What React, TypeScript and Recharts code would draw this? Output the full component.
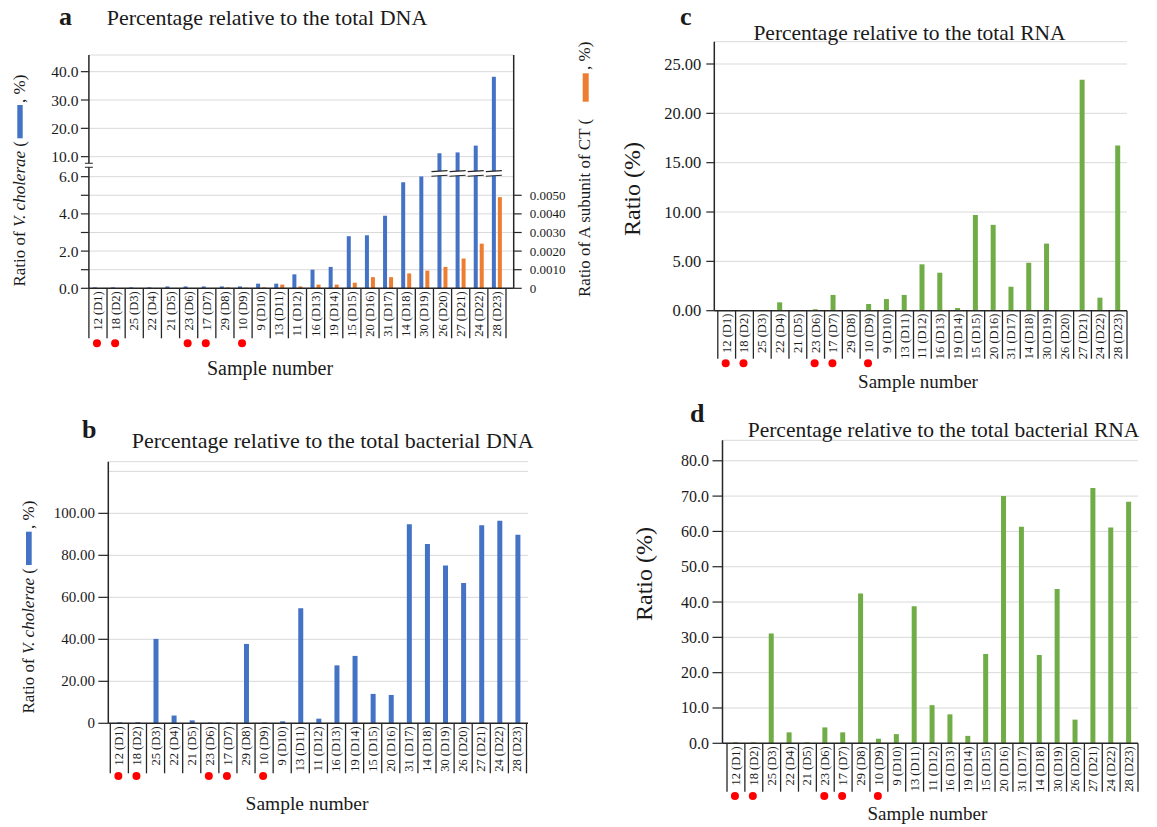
import React from "react";
import { BarChart, Bar, XAxis, YAxis, CartesianGrid } from "recharts";

// Four panels of V. cholerae / CT ratios per sample, laid out like the paper figure.
const SERIF = '"Liberation Serif", "Times New Roman", serif';
const BLUE = "#4472c4";
const ORANGE = "#ed7d31";
const GREEN = "#70ad47";
const AXIS = "#262626";
const GRID = "#d9d9d9";
const INK = "#1a1a1a";

const samples = [
  "12 (D1)", "18 (D2)", "25 (D3)", "22 (D4)", "21 (D5)", "23 (D6)", "17 (D7)", "29 (D8)",
  "10 (D9)", "9 (D10)", "13 (D11)", "11 (D12)", "16 (D13)", "19 (D14)", "15 (D15)", "20 (D16)",
  "31 (D17)", "14 (D18)", "30 (D19)", "26 (D20)", "27 (D21)", "24 (D22)", "28 (D23)",
];
// samples flagged with a red dot under the axis
const marked = ["12 (D1)", "18 (D2)", "23 (D6)", "17 (D7)", "10 (D9)"];

// a: % of total DNA (V. cholerae, left axis) and A subunit of CT (right axis)
const dnaVc = [0.05, 0.05, 0.05, 0.05, 0.1, 0.1, 0.1, 0.1, 0.1, 0.25, 0.25, 0.75, 1.0, 1.15, 2.8, 2.85, 3.9, 5.7, 6.05, 11.2, 11.5, 13.9, 38.2];
const dnaCt = [0, 0, 0, 0, 0, 0, 0, 0.00005, 0.00003, 0.00005, 0.0002, 0.0001, 0.0002, 0.0002, 0.0003, 0.0006, 0.0006, 0.0008, 0.00095, 0.00115, 0.0016, 0.0024, 0.0049];
// b: % of total bacterial DNA
const bactDnaVc = [0.5, 0.5, 40.2, 3.7, 1.4, 0.4, 0.4, 37.8, 0.4, 0.95, 54.8, 2.2, 27.6, 32.1, 14.0, 13.5, 94.8, 85.4, 75.2, 66.8, 94.3, 96.5, 89.8];
// c: % of total RNA
const rnaVc = [0, 0, 0, 0.85, 0, 0.15, 1.6, 0, 0.68, 1.18, 1.6, 4.7, 3.85, 0.27, 9.7, 8.7, 2.43, 4.86, 6.8, 0, 23.4, 1.32, 16.75];
// d: % of total bacterial RNA
const bactRnaVc = [0.3, 0.3, 31.1, 3.1, 0.3, 4.5, 3.1, 42.4, 1.3, 2.6, 38.8, 10.8, 8.2, 2.1, 25.3, 70.0, 61.3, 25.0, 43.7, 6.7, 72.3, 61.1, 68.4];

const dnaTicks = [0, 1, 2, 3, 4, 5, 6, 10, 20, 30, 40];
const ctTicks = [0, 0.001, 0.002, 0.003, 0.004, 0.005];
const bactDnaTicks = [0, 20, 40, 60, 80, 100, 120];
const rnaTicks = [0, 5, 10, 15, 20, 25];
const bactRnaTicks = [0, 10, 20, 30, 40, 50, 60, 70, 80];

// panel a has a broken axis: 0-6 linear, a gap, then 10-40 compressed
const BREAK_LOW = 6;
const BREAK_HIGH = 10;
const BREAK_GAP = 1.075;
const UPPER_SCALE = 0.1523;
const toAxis = (v: number) =>
  v <= BREAK_LOW
    ? v
    : v >= BREAK_HIGH
    ? BREAK_LOW + BREAK_GAP + (v - BREAK_HIGH) * UPPER_SCALE
    : BREAK_LOW + ((v - BREAK_LOW) / (BREAK_HIGH - BREAK_LOW)) * BREAK_GAP;
const DNA_TOP = 12.54;

const dnaRows = samples.map((s, i) => ({ sample: s, vc: toAxis(dnaVc[i]), vcRaw: dnaVc[i], ct: dnaCt[i] }));
const bactDnaRows = samples.map((s, i) => ({ sample: s, v: bactDnaVc[i] }));
const rnaRows = samples.map((s, i) => ({ sample: s, v: rnaVc[i] }));
const bactRnaRows = samples.map((s, i) => ({ sample: s, v: bactRnaVc[i] }));

function SampleTick(props: any) {
  const { x, y, payload, band, sep, dotDy } = props;
  const half = band / 2;
  const last = payload.value === samples[samples.length - 1];
  return (
    <g>
      <line x1={x - half} x2={x - half} y1={y} y2={y + sep} stroke={AXIS} strokeWidth={1.3} />
      {last && <line x1={x + half} x2={x + half} y1={y} y2={y + sep} stroke={AXIS} strokeWidth={1.3} />}
      <text
        transform={`translate(${x + 4},${y + 3}) rotate(-90)`}
        textAnchor="end"
        fontSize={12.5}
        fontFamily={SERIF}
        fill={INK}
      >
        {payload.value}
      </text>
      {marked.includes(payload.value) && <circle cx={x - 1} cy={y + dotDy} r={4} fill="#ff0000" />}
    </g>
  );
}

function ValueTick(props: any) {
  const { x, y, payload, text, side, len, gap, size, brk, bareBlank } = props;
  const label = text(payload.value);
  const dir = side === "right" ? 1 : -1;
  return (
    <g>
      {!(bareBlank && label === "") && (
        <line x1={x} x2={x + dir * len} y1={y} y2={y} stroke={AXIS} strokeWidth={1.2} />
      )}
      {label !== "" && (
        <text
          x={x + dir * (len + gap)}
          y={y}
          textAnchor={side === "right" ? "start" : "end"}
          dominantBaseline="central"
          fontSize={size}
          fontFamily={SERIF}
          fill={INK}
        >
          {label}
        </text>
      )}
      {brk && (
        <g>
          <rect x={x - 4} y={y + 6.6} width={8} height={4} fill="#fff" />
          <line x1={x - 4} x2={x + 4} y1={y + 6.6} y2={y + 6.6} stroke={AXIS} strokeWidth={1} />
          <line x1={x - 4} x2={x + 4} y1={y + 10.6} y2={y + 10.6} stroke={AXIS} strokeWidth={1} />
        </g>
      )}
    </g>
  );
}

// blue bar of panel a; bars running past the break get the "=" cut mark
function BrokenBar(props: any) {
  const { x, y, width, height, fill, payload } = props;
  if (!height || height <= 0) return null;
  const cut = payload.vcRaw > BREAK_HIGH;
  const ppu = height / payload.vc;
  const base = y + height;
  const y1 = base - 6.3 * ppu;
  const y2 = base - 6.05 * ppu;
  const cx = x + width / 2;
  return (
    <g>
      <rect x={x} y={y} width={width} height={height} fill={fill} />
      {cut && (
        <g>
          <rect x={cx - 8} y={y1} width={16} height={y2 - y1} fill="#fff" />
          <line x1={cx - 8} x2={cx + 8} y1={y1 + 0.5} y2={y1 - 0.5} stroke={AXIS} strokeWidth={1.2} />
          <line x1={cx - 8} x2={cx + 8} y1={y2 + 0.5} y2={y2 - 0.5} stroke={AXIS} strokeWidth={1.2} />
        </g>
      )}
    </g>
  );
}

const axisLine = { stroke: AXIS, strokeWidth: 1.5 };

function PanelA() {
  const findTick = (v: number) => dnaTicks.find((t) => Math.abs(toAxis(t) - v) < 1e-6);
  return (
    <div style={{ position: "absolute", left: 0, top: 0 }}>
      <BarChart
        width={600}
        height={360}
        data={dnaRows}
        margin={{ top: 55, right: 26.3, left: 28.9, bottom: 11.7 }}
        barGap={2}
        barSize={4}
      >
        <CartesianGrid vertical={false} stroke={GRID} />
        <XAxis
          dataKey="sample"
          interval={0}
          height={60}
          tickLine={false}
          tickSize={0}
          tickMargin={0}
          padding={{ left: 0, right: 7.7 }}
          axisLine={axisLine}
          tick={(p: any) => <SampleTick {...p} band={18.13} sep={50} dotDy={55} />}
        />
        <YAxis
          width={60}
          domain={[0, DNA_TOP]}
          ticks={dnaTicks.map(toAxis)}
          interval={0}
          tickLine={false}
          tickSize={0}
          tickMargin={0}
          axisLine={axisLine}
          tick={(p: any) => {
            const t = findTick(p.payload.value) ?? 0;
            return (
              <ValueTick
                {...p}
                side="left"
                len={8}
                gap={2.5}
                size={15.5}
                brk={t === BREAK_HIGH}
                text={() => (t % 2 === 0 ? t.toFixed(1) : "")}
              />
            );
          }}
        />
        <YAxis
          yAxisId="ct"
          orientation="right"
          width={60}
          domain={[0, DNA_TOP * 0.001]}
          ticks={ctTicks}
          interval={0}
          tickLine={false}
          tickSize={0}
          tickMargin={0}
          axisLine={axisLine}
          tick={(p: any) => (
            <ValueTick
              {...p}
              side="right"
              len={8}
              gap={8}
              size={13}
              text={(v: number) => (v === 0 ? "0" : v.toFixed(4))}
            />
          )}
        />
        <Bar dataKey="vc" fill={BLUE} isAnimationActive={false} shape={BrokenBar} />
        <Bar dataKey="ct" yAxisId="ct" fill={ORANGE} isAnimationActive={false} />
      </BarChart>
    </div>
  );
}

function SinglePanel(props: any) {
  const { rows, left, top, width, height, margin, padding, band, sep, dotDy, domain, ticks, fmt, fill, barSize, tickLen, tickGap, tickFont } = props;
  return (
    <div style={{ position: "absolute", left, top }}>
      <BarChart width={width} height={height} data={rows} margin={margin} barSize={barSize}>
        <CartesianGrid vertical={false} stroke={GRID} />
        <XAxis
          dataKey="sample"
          interval={0}
          height={60}
          tickLine={false}
          tickSize={0}
          tickMargin={0}
          padding={padding}
          axisLine={axisLine}
          tick={(p: any) => <SampleTick {...p} band={band} sep={sep} dotDy={dotDy} />}
        />
        <YAxis
          width={70}
          domain={domain}
          ticks={ticks}
          interval={0}
          tickLine={false}
          tickSize={0}
          tickMargin={0}
          axisLine={axisLine}
          tick={(p: any) => (
            <ValueTick {...p} side="left" len={tickLen} gap={tickGap} size={tickFont} text={fmt} bareBlank />
          )}
        />
        <Bar dataKey="v" fill={fill} isAnimationActive={false} />
      </BarChart>
    </div>
  );
}

function Texts() {
  const t = { fontFamily: SERIF, fill: INK };
  return (
    <svg width={1157} height={827} style={{ position: "absolute", left: 0, top: 0, pointerEvents: "none" }}>
      {/* panel a */}
      <text x={59} y={25} fontSize={26} fontWeight="bold" {...t}>a</text>
      <text x={267} y={24.5} fontSize={22} textAnchor="middle" {...t}>Percentage relative to the total DNA</text>
      <text x={270} y={375} fontSize={20} textAnchor="middle" {...t}>Sample number</text>
      <text transform="translate(25,141) rotate(-90)" textAnchor="end" fontSize={17} {...t}>
        Ratio of <tspan fontStyle="italic">V. cholerae</tspan> (
      </text>
      <rect x={17.3} y={105} width={5.4} height={33.3} fill={BLUE} />
      <text transform="translate(25,103) rotate(-90)" fontSize={17} {...t}>, %)</text>
      <text transform="translate(590,297) rotate(-90)" fontSize={17} {...t}>Ratio of A subunit of CT (</text>
      <rect x={582.7} y={73.3} width={6} height={28.4} fill={ORANGE} />
      <text transform="translate(590,70) rotate(-90)" fontSize={17} {...t}>, %)</text>

      {/* panel b */}
      <text x={82} y={438} fontSize={26} fontWeight="bold" {...t}>b</text>
      <text x={332.7} y={448} fontSize={22} textAnchor="middle" {...t}>Percentage relative to the total bacterial DNA</text>
      <text x={307} y={810} fontSize={19.5} textAnchor="middle" {...t}>Sample number</text>
      <text transform="translate(33.5,568) rotate(-90)" textAnchor="end" fontSize={17} {...t}>
        Ratio of <tspan fontStyle="italic">V. cholerae</tspan> (
      </text>
      <rect x={26} y={531.7} width={5.7} height={33.3} fill={BLUE} />
      <text transform="translate(33.5,529) rotate(-90)" fontSize={17} {...t}>, %)</text>

      {/* panel c */}
      <text x={680} y={25} fontSize={26} fontWeight="bold" {...t}>c</text>
      <text x={909.5} y={40} fontSize={21.5} textAnchor="middle" {...t}>Percentage relative to the total RNA</text>
      <text x={918} y={388} fontSize={19} textAnchor="middle" {...t}>Sample number</text>
      <text transform="translate(640,189) rotate(-90)" textAnchor="middle" fontSize={24} {...t}>Ratio (%)</text>

      {/* panel d */}
      <text x={690} y={421.7} fontSize={26} fontWeight="bold" {...t}>d</text>
      <text x={943.5} y={437} fontSize={21.5} textAnchor="middle" {...t}>Percentage relative to the total bacterial RNA</text>
      <text x={927.4} y={820} fontSize={19} textAnchor="middle" {...t}>Sample number</text>
      <text transform="translate(651.5,574) rotate(-90)" textAnchor="middle" fontSize={24} {...t}>Ratio (%)</text>
    </svg>
  );
}

export default function App() {
  return (
    <div
      style={{
        position: "absolute",
        left: 0,
        top: 0,
        width: 1157,
        height: 827,
        background: "#fff",
        overflow: "hidden",
        fontFamily: SERIF,
      }}
    >
      <PanelA />
      <SinglePanel
        rows={bactDnaRows}
        left={0}
        top={400}
        width={600}
        height={427}
        margin={{ top: 61.7, right: 72, left: 38.3, bottom: 43.7 }}
        padding={{ left: 2, right: 1.5 }}
        band={18.1}
        sep={50}
        dotDy={52.7}
        domain={[0, 124.6]}
        ticks={bactDnaTicks}
        fmt={(v: number) => (v === 120 ? "" : v === 0 ? "0" : v.toFixed(2))}
        fill={BLUE}
        barSize={5}
        tickLen={10}
        tickGap={3.3}
        tickFont={15}
      />
      <SinglePanel
        rows={rnaRows}
        left={580}
        top={0}
        width={577}
        height={400}
        margin={{ top: 41.7, right: 30, left: 64.3, bottom: 29.3 }}
        padding={{ left: 3.5, right: 0 }}
        band={17.8}
        sep={48}
        dotDy={52.6}
        domain={[0, 27.26]}
        ticks={rnaTicks}
        fmt={(v: number) => v.toFixed(2)}
        fill={GREEN}
        barSize={5}
        tickLen={8}
        tickGap={5}
        tickFont={16.5}
      />
      <SinglePanel
        rows={bactRnaRows}
        left={580}
        top={400}
        width={577}
        height={427}
        margin={{ top: 40.3, right: 19, left: 72.5, bottom: 23.7 }}
        padding={{ left: 4.5, right: 0 }}
        band={17.86}
        sep={48.4}
        dotDy={52.7}
        domain={[0, 85.8]}
        ticks={bactRnaTicks}
        fmt={(v: number) => v.toFixed(1)}
        fill={GREEN}
        barSize={5}
        tickLen={10}
        tickGap={3.4}
        tickFont={16}
      />
      <Texts />
    </div>
  );
}
